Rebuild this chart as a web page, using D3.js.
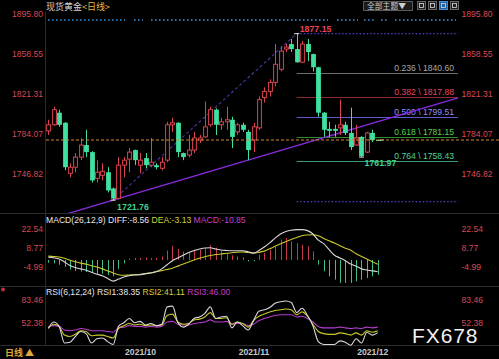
<!DOCTYPE html>
<html><head><meta charset="utf-8">
<script src="https://cdn.jsdelivr.net/npm/d3@7/dist/d3.min.js"></script>
<style>html,body{margin:0;padding:0;background:#000;overflow:hidden}svg{display:block}</style>
</head><body><svg id="c" width="499" height="359"></svg>
<script>
// ---------- data ----------
const opens  = [1786.4,1792.1,1803.4,1794.0,1746.8,1752.5,1761.9,1773.2,1766.6,1742.1,1744.9,1747.8,1732.7,1723.2,1754.4,1760.0,1768.5,1754.4,1761.0,1754.4,1754.4,1751.5,1759.1,1792.1,1794.0,1765.7,1763.8,1768.5,1777.9,1780.8,1792.1,1806.2,1792.1,1794.9,1796.8,1785.5,1792.1,1785.5,1777.9,1789.2,1817.5,1823.2,1831.7,1843.9,1862.8,1867.5,1862.8,1850.5,1867.5,1858.1,1845.8,1803.4,1788.3,1788.3,1789.2,1792.1,1784.5,1773.2,1780.8,1766.6,1784.5,1777.9];
const highs  = [1796.8,1809.0,1806.2,1794.5,1756.2,1765.7,1779.8,1787.4,1767.5,1759.1,1756.2,1752.5,1733.5,1761.9,1761.9,1770.4,1769.0,1765.7,1765.7,1779.8,1756.2,1761.9,1794.9,1798.7,1794.5,1766.2,1782.6,1785.5,1782.6,1813.8,1809.0,1807.5,1798.7,1809.0,1799.6,1794.0,1794.0,1787.4,1794.0,1818.5,1827.0,1834.5,1867.5,1865.6,1867.5,1872.2,1877.15,1870.3,1872.2,1858.6,1846.3,1803.9,1794.9,1792.1,1815.6,1794.9,1808.1,1792.1,1781.5,1785.5,1787.4,1778.3];
const lows   = [1782.6,1791.1,1790.2,1749.6,1743.0,1747.8,1759.1,1761.9,1738.3,1738.3,1740.2,1728.9,1721.76,1722.5,1743.0,1747.8,1754.4,1746.8,1751.5,1752.5,1750.5,1749.6,1757.2,1785.5,1761.9,1759.1,1761.9,1765.7,1775.1,1780.0,1790.2,1782.6,1787.4,1787.4,1770.4,1782.6,1785.5,1759.1,1766.6,1787.4,1812.8,1818.5,1827.9,1842.0,1860.0,1860.0,1850.0,1850.0,1851.5,1842.0,1799.6,1780.8,1780.8,1780.8,1782.6,1782.6,1768.5,1772.5,1761.97,1765.7,1776.0,1777.5];
const closes = [1792.1,1806.2,1792.1,1752.5,1752.5,1761.9,1773.2,1766.6,1740.2,1747.8,1748.7,1730.8,1723.2,1754.4,1759.1,1766.6,1759.1,1759.1,1754.4,1757.2,1752.5,1757.2,1792.1,1794.0,1766.6,1761.9,1768.5,1779.8,1779.8,1790.2,1806.2,1792.1,1794.9,1796.8,1780.8,1792.1,1787.4,1768.5,1790.2,1815.6,1823.2,1831.7,1848.6,1860.9,1864.7,1862.8,1850.5,1867.5,1860.0,1845.8,1803.4,1787.4,1786.4,1786.4,1792.1,1784.5,1771.3,1779.8,1763.0,1784.5,1777.9,1777.9];

const diffVals = [2.0,1.6,0.8,-1.5,-4.0,-5.5,-6.5,-7.5,-9.0,-10.5,-11.5,-13.5,-15.5,-14.0,-12.5,-11.5,-11.0,-10.8,-10.0,-9.5,-8.5,-6.5,-3.5,-0.5,1.5,3.5,5.5,7.0,8.0,8.8,9.0,8.0,7.3,7.0,6.8,6.8,6.8,6.0,5.0,7.0,9.5,12.5,16.0,19.0,20.8,21.8,22.2,22.2,21.5,19.0,14.5,12.0,7.5,3.5,1.5,-0.5,-3.0,-4.5,-6.5,-7.3,-8.0,-8.56];
const deaVals  = [2.8,2.6,2.2,1.2,-0.2,-1.3,-2.3,-3.1,-4.2,-5.2,-6.5,-8.0,-9.5,-10.8,-11.2,-11.0,-10.8,-10.5,-10.0,-9.4,-8.6,-7.8,-7.0,-6.0,-4.5,-3.0,-1.5,0.0,1.3,2.4,3.3,4.0,4.4,4.9,5.3,5.7,5.8,5.5,5.1,5.6,6.5,8.2,10.0,11.8,13.6,15.0,16.5,17.8,18.3,18.5,17.8,15.8,14.0,12.4,10.5,8.6,7.2,4.6,2.6,0.8,-1.2,-3.13];
const macdBars = [-2.0,-2.5,-3.5,-5.0,-7.0,-8.0,-8.5,-8.8,-9.5,-10.5,-10.0,-11.0,-12.0,-6.5,-2.5,1.0,1.5,1.5,1.8,1.5,1.5,2.5,7.0,10.5,8.0,6.0,5.5,7.0,7.5,8.5,11.0,9.0,7.0,5.0,3.5,2.5,2.0,-1.0,-0.8,3.9,5.1,7.5,10.0,14.9,16.1,13.6,12.4,11.2,10.0,6.3,-3.4,-8.3,-12.0,-14.4,-16.8,-16.8,-16.8,-15.7,-14.4,-13.2,-12.0,-10.85];

const rsi1 = [44,53,47,24,25,33,40,37,24,30,31,26,22,47,52,58,52,54,49,51,48,50,74,75,52,46,50,58,60,65,74,58,60,61,45,53,48,42,55,68,70,73,79,81,82,80,66,72,62,48,26,22,22,22,27,25,21,30,24,39,35,38.35];
const rsi2 = [45,50,47,35,33,36,41,40,34,35,35,33,31,44,48,51,49,50,48,49,48,49,62,64,53,50,51,56,57,60,66,58,58,59,50,53,51,46,55,61,64,67,69,70,71,70,63,67,61,50,40,37,36,36,38,37,35,38,35,41,39,41.11];
const rsi3 = [46,48,47,42,41,42,44,43,41,41,41,40,39,45,46,48,47,47,46,47,46,47,53,54,50,49,49,51,52,53,56,53,53,54,50,51,51,48,50,55,58,60,62,63,63,63,60,61,58,53,47,45,45,45,46,45,44,45,44,46,45,46.00];

const priceTicks = [1895.80,1858.55,1821.31,1784.07,1746.82];
const macdTicks  = [22.54,8.77,-4.99];
const rsiTicks   = [83.46,52.38];
const monthTickIdx = [17,38,60];
const monthLabels  = ["2021/10","2021/11","2021/12"];
const fibRatios = ["0.236","0.382","0.500","0.618","0.764"];
const fibPrices = [1840.60,1817.88,1799.51,1781.15,1758.43];
const swingLowIdx = 12, swingLowPrice = 1721.76;
const swingHighIdx = 46, swingHighPrice = 1877.15;
const recentLowIdx = 58, recentLowPrice = 1761.97;
const trendIdx = [12,37], trendPrice = [1721.76,1759.1];
const lastPrice = 1777.9;

// ---------- layout ----------
const svg = d3.select("#c");
const W = 499, H = 359;
const n = opens.length;
const x = d3.scaleLinear().domain([0, n-1]).range([48.3, 377.7]);
const yP = d3.scaleLinear().domain([1746.82, 1895.80]).range([173.3, 13.7]);
const yM = d3.scaleLinear().domain([-4.99, 22.54]).range([266.8, 229.2]);
const yR = d3.scaleLinear().domain([52.38, 83.46]).range([322.5, 300]);
const FONT = "'Liberation Sans', Arial, sans-serif";
const CJK = "'Noto Sans CJK SC', sans-serif";
const RED = "#d9434f", GREEN = "#3fe0a0", AXRED = "#d84a55";

svg.append("rect").attr("width", W).attr("height", H).attr("fill", "#000");

// separators
const sep = svg.append("g").attr("stroke", "#2b2b2b").attr("stroke-width", 1);
[213.5, 286.5, 345.5].forEach(v => sep.append("line").attr("x1", 0).attr("x2", W).attr("y1", v).attr("y2", v));
sep.append("line").attr("x1", 45.5).attr("x2", 45.5).attr("y1", 12).attr("y2", 345);

// clip for main
svg.append("clipPath").attr("id", "mainclip").append("rect").attr("x", 46).attr("y", 12).attr("width", 413).attr("height", 201);
const main = svg.append("g").attr("clip-path", "url(#mainclip)");

// blue dotted line at top
const dotSegs = [[48,125],[134,143],[151,328],[337,358],[364,375],[381,388],[395,456]];
dotSegs.forEach(s => main.append("line").attr("x1", s[0]).attr("x2", s[1]).attr("y1", 20).attr("y2", 20)
  .attr("stroke", "#3d8fd6").attr("stroke-width", 1.6).attr("stroke-dasharray", "1.6,2.4"));

// fib lines
const fibX0 = x(swingHighIdx), fibX1 = 458;
const fibLineCol = ["#6e6e6e", "#8e2a2a", "#5c5ccc", "#2d8a2d", "#3a9c70"];
const fibTextCol = ["#a8a8a8", "#e5475a", "#8d8dff", "#5ccf4f", "#4fd39a"];
main.append("line").attr("x1", fibX0).attr("x2", fibX1).attr("y1", yP(swingHighPrice)).attr("y2", yP(swingHighPrice))
  .attr("stroke", "#5a3cc0").attr("stroke-dasharray", "1.5,2").attr("stroke-width", 1.2);
main.append("line").attr("x1", fibX0).attr("x2", fibX1).attr("y1", yP(swingLowPrice)+1.5).attr("y2", yP(swingLowPrice)+1.5)
  .attr("stroke", "#5a3cc0").attr("stroke-dasharray", "1.5,2").attr("stroke-width", 1.2);
fibPrices.forEach((p, k) => {
  main.append("line").attr("x1", fibX0).attr("x2", fibX1).attr("y1", Math.round(yP(p))+0.5).attr("y2", Math.round(yP(p))+0.5)
    .attr("stroke", fibLineCol[k]).attr("stroke-width", 1);
  main.append("text").attr("x", 454).attr("y", yP(p) - 2).attr("text-anchor", "end")
    .attr("font-family", FONT).attr("font-size", 8.6).attr("fill", fibTextCol[k])
    .text(fibRatios[k] + " \\ " + p.toFixed(2));
});

// last price orange dashed line (extends to right edge)
svg.append("line").attr("x1", 46).attr("x2", W).attr("y1", yP(lastPrice)).attr("y2", yP(lastPrice))
  .attr("stroke", "#d4862e").attr("stroke-dasharray", "3,2").attr("stroke-width", 1);

// diagonal dashed from swing low to swing high
main.append("line").attr("x1", x(swingLowIdx)).attr("y1", yP(swingLowPrice)).attr("x2", x(swingHighIdx)).attr("y2", yP(swingHighPrice))
  .attr("stroke", "#5533aa").attr("stroke-dasharray", "3,2.5").attr("stroke-width", 1.1);

// trend line through two lows, extended
const slope = (trendPrice[1]-trendPrice[0])/(trendIdx[1]-trendIdx[0]);
const tAt = i => trendPrice[0] + slope*(i - trendIdx[0]);
const iStart = x.invert(60), iEnd = x.invert(458);
main.append("line").attr("x1", x(iStart)).attr("y1", yP(tAt(iStart))).attr("x2", x(iEnd)).attr("y2", yP(tAt(iEnd)))
  .attr("stroke", "#8a2be2").attr("stroke-width", 1.3);

// candles
const bw = 3.8;
const cg = main.append("g");
d3.range(n).forEach(i => {
  const up = closes[i] > opens[i];
  const col = up ? RED : GREEN;
  const cx = Math.round(x(i)) + 0.5;
  const top = yP(Math.max(opens[i], closes[i])), bot = yP(Math.min(opens[i], closes[i]));
  cg.append("line").attr("x1", cx).attr("x2", cx).attr("y1", yP(highs[i])).attr("y2", yP(lows[i]))
    .attr("stroke", col).attr("stroke-width", 1);
  const h = Math.max(bot - top, 1);
  if (up) {
    cg.append("rect").attr("x", cx - bw/2).attr("y", top).attr("width", bw).attr("height", h)
      .attr("fill", "#000").attr("stroke", col).attr("stroke-width", 1);
  } else {
    cg.append("rect").attr("x", cx - bw/2 - 0.5).attr("y", top).attr("width", bw + 1).attr("height", h)
      .attr("fill", col);
  }
});
// extreme markers
[[swingLowIdx, swingLowPrice], [swingHighIdx, swingHighPrice], [recentLowIdx, recentLowPrice]].forEach(m => {
  main.append("line").attr("x1", x(m[0]) - 2.5).attr("x2", x(m[0]) + 2.5).attr("y1", yP(m[1])).attr("y2", yP(m[1]))
    .attr("stroke", "#e8e8e8").attr("stroke-width", 1);
});
main.append("line").attr("x1", x(n-1)+2).attr("x2", x(n-1)+6).attr("y1", yP(lastPrice)).attr("y2", yP(lastPrice))
  .attr("stroke", "#e8e8e8").attr("stroke-width", 1);

// extreme labels
svg.append("text").attr("x", x(swingHighIdx) + 3).attr("y", yP(swingHighPrice) - 2).attr("font-family", FONT)
  .attr("font-size", 8.8).attr("font-weight", "bold").attr("fill", "#e5475a").text(swingHighPrice.toFixed(2));
svg.append("text").attr("x", x(swingLowIdx) + 4).attr("y", yP(swingLowPrice) + 10).attr("font-family", FONT)
  .attr("font-size", 8.8).attr("font-weight", "bold").attr("fill", "#3fd08e").text(swingLowPrice.toFixed(2));
svg.append("text").attr("x", x(recentLowIdx) + 3).attr("y", yP(recentLowPrice) + 8.5).attr("font-family", FONT)
  .attr("font-size", 8.8).attr("font-weight", "bold").attr("fill", "#3fd08e").text(recentLowPrice.toFixed(2));

// axes helper
function axisPair(scale, ticks) {
  const fmt = d => d.toFixed(2);
  const l = svg.append("g").attr("transform", "translate(44.5,0)")
    .call(d3.axisLeft(scale).tickValues(ticks).tickFormat(fmt).tickSize(0).tickPadding(1.5));
  const r = svg.append("g").attr("transform", "translate(460,0)")
    .call(d3.axisRight(scale).tickValues(ticks).tickFormat(fmt).tickSize(0).tickPadding(1.5));
  [l, r].forEach(g => {
    g.select(".domain").remove();
    g.selectAll("text").attr("font-family", FONT).attr("font-size", 8.6).attr("fill", AXRED);
  });
}
axisPair(yP, priceTicks);
axisPair(yM, macdTicks);
axisPair(yR, rsiTicks);

// ---------- MACD ----------
const mg = svg.append("g");
d3.range(n).forEach(i => {
  const v = macdBars[i];
  const cx = Math.round(x(i)) + 0.5;
  mg.append("line").attr("x1", cx).attr("x2", cx).attr("y1", yM(0)).attr("y2", yM(v))
    .attr("stroke", v >= 0 ? "#c8384a" : "#3fbf85").attr("stroke-width", 1);
});
const lineGen = (sc) => d3.line().x((d, i) => x(i)).y(d => sc(d)).curve(d3.curveMonotoneX);
mg.append("path").datum(deaVals).attr("d", lineGen(yM)).attr("fill", "none").attr("stroke", "#c9c92c").attr("stroke-width", 1.1);
mg.append("path").datum(diffVals).attr("d", lineGen(yM)).attr("fill", "none").attr("stroke", "#d8d8d8").attr("stroke-width", 1.1);

const mt = svg.append("text").attr("x", 46).attr("y", 223).attr("font-family", FONT).attr("font-size", 8.6);
mt.append("tspan").attr("fill", "#e6e6e6").text("MACD(26,12,9) DIFF:" + diffVals[n-1].toFixed(2) + "  ");
mt.append("tspan").attr("fill", "#d2cf3a").text("DEA:" + deaVals[n-1].toFixed(2) + "  ");
mt.append("tspan").attr("fill", "#c63fc6").text("MACD:" + macdBars[n-1].toFixed(2));

// ---------- RSI ----------
const rg = svg.append("g");
rg.append("path").datum(rsi3).attr("d", lineGen(yR)).attr("fill", "none").attr("stroke", "#b43cc8").attr("stroke-width", 1.1);
rg.append("path").datum(rsi2).attr("d", lineGen(yR)).attr("fill", "none").attr("stroke", "#c9c92c").attr("stroke-width", 1.1);
rg.append("path").datum(rsi1).attr("d", lineGen(yR)).attr("fill", "none").attr("stroke", "#d8d8d8").attr("stroke-width", 1.1);

const rt = svg.append("text").attr("x", 46).attr("y", 295).attr("font-family", FONT).attr("font-size", 8.6);
rt.append("tspan").attr("fill", "#e6e6e6").text("RSI(6,12,24) RSI1:" + rsi1[n-1].toFixed(2) + "  ");
rt.append("tspan").attr("fill", "#d2cf3a").text("RSI2:" + rsi2[n-1].toFixed(2) + "  ");
rt.append("tspan").attr("fill", "#c63fc6").text("RSI3:" + rsi3[n-1].toFixed(2));

// ---------- x axis ----------
const xa = svg.append("g").attr("transform", "translate(0,346)")
  .call(d3.axisBottom(x).tickValues(monthTickIdx).tickFormat((d, k) => monthLabels[k]).tickSize(0).tickPadding(3));
xa.select(".domain").remove();
xa.selectAll("text").attr("font-family", FONT).attr("font-size", 8.6).attr("font-weight", "bold").attr("fill", "#c8c8c8");

// bottom-left label
svg.append("text").attr("x", 5).attr("y", 356).attr("font-family", CJK).attr("font-size", 9).attr("font-weight", "bold")
  .attr("fill", "#e0a93a").text("日线 ▲");
svg.append("circle").attr("cx", 3).attr("cy", 289.5).attr("r", 2).attr("fill", "#c0303a");

// title
const tt = svg.append("text").attr("x", 46).attr("y", 9.5).attr("font-family", CJK).attr("font-size", 9);
tt.append("tspan").attr("fill", "#d6d6d6").text("现货黄金");
tt.append("tspan").attr("fill", "#e8b84a").text("<日线>");

// top-right controls
svg.append("rect").attr("x", 363.5).attr("y", 1.5).attr("width", 49).attr("height", 9).attr("fill", "#1a1a1a").attr("stroke", "#5a5a5a");
svg.append("text").attr("x", 367).attr("y", 9.3).attr("font-family", CJK).attr("font-size", 7.8).attr("fill", "#cfcfcf").text("全部主题▼");
[417.5, 428.5, 439.5, 450.5].forEach((ix, k) => {
  svg.append("rect").attr("x", ix).attr("y", 1.5).attr("width", 8).attr("height", 8)
    .attr("fill", k === 2 ? "#1f5f9f" : "#202020").attr("stroke", k === 2 ? "#3f8fdf" : "#666");
  svg.append("rect").attr("x", ix + 2).attr("y", 3.5).attr("width", 4).attr("height", 4)
    .attr("fill", "none").attr("stroke", "#dcdcdc").attr("stroke-width", 0.8);
});

// watermark
svg.append("text").attr("x", 412).attr("y", 343).attr("font-family", FONT).attr("font-size", 21)
  .attr("letter-spacing", 0.9).attr("fill", "#f2f2f2").text("FX678");
</script></body></html>
